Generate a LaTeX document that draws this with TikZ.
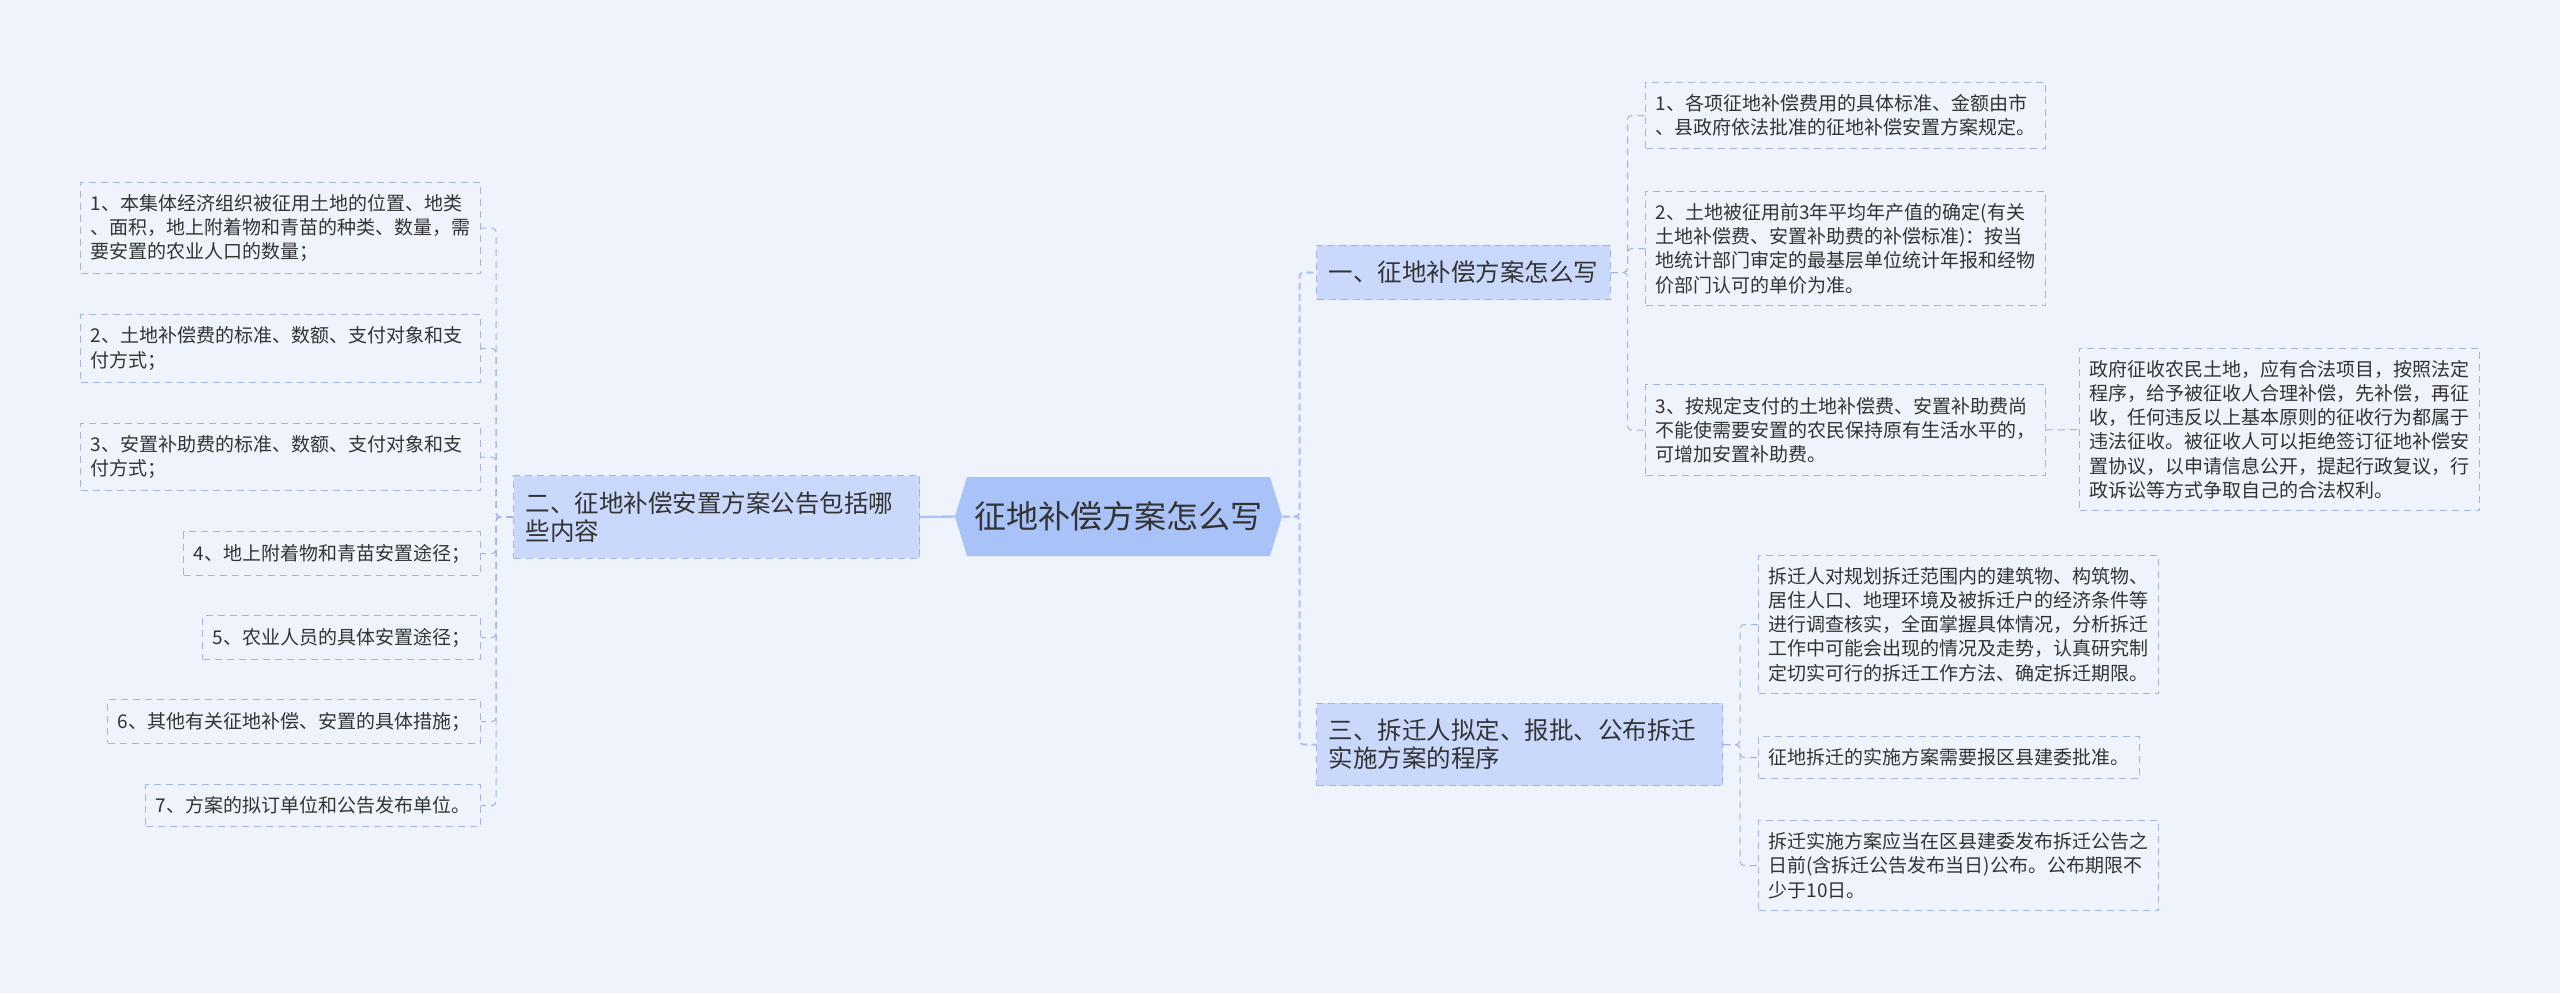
\documentclass[tikz,border=0pt]{standalone}
\usepackage{fontspec}
\setmainfont{Noto Sans CJK SC}
\usetikzlibrary{shapes.symbols}
\definecolor{bgcol}{HTML}{EEF3FC}
\definecolor{rootfill}{HTML}{A9C2F8}
\definecolor{branchfill}{HTML}{C9D8FB}
\definecolor{edgecol}{HTML}{A4B4E0}
\definecolor{inkcol}{HTML}{333333}

\begin{document}
\begin{tikzpicture}[x=0.5pt, y=-0.5pt,
  leaf/.style={draw=edgecol, line width=0.5pt, dash pattern=on 3.5pt off 2.5pt, text=inkcol, align=left, inner xsep=5pt, inner ysep=6pt, font=\fontsize{9.5}{12.1}\selectfont},
  wideleaf/.style={leaf, text width=190pt},
  branch/.style={draw=edgecol, fill=branchfill, line width=0.5pt, dash pattern=on 3.5pt off 2.5pt, text=inkcol, align=left, inner xsep=6pt, inner ysep=8pt, font=\fontsize{12.25}{14}\selectfont},
  widebranch/.style={branch, text width=191pt},
  root/.style={signal, signal to=west and east, signal pointer angle=146, fill=rootfill, text=inkcol, inner xsep=3.75pt, minimum height=39.5pt, font=\fontsize{16}{18}\selectfont},
  link/.style={edgecol, line width=0.5pt, dash pattern=on 3.5pt off 2.5pt, rounded corners=2pt},
  trunk/.style={rootfill, line width=1pt, dash pattern=on 3.5pt off 2pt, rounded corners=2pt},
  rootlink/.style={rootfill, line width=1.2pt}]
  \fill[bgcol] (0,0) rectangle (2560,993);

  \node[root] (root) at (1118.5,516.5) {征地补偿方案怎么写};

  \node[widebranch, anchor=east] (lb) at (920,517) {二、征地补偿安置方案公告包括哪\\些内容};
  \node[wideleaf, anchor=east] (l1) at (481,228) {1、本集体经济组织被征用土地的位置、地类\\、面积，地上附着物和青苗的种类、数量，需\\要安置的农业人口的数量；};
  \node[wideleaf, anchor=east] (l2) at (481,348.5) {2、土地补偿费的标准、数额、支付对象和支\\付方式；};
  \node[wideleaf, anchor=east] (l3) at (481,457) {3、安置补助费的标准、数额、支付对象和支\\付方式；};
  \node[leaf, anchor=east] (l4) at (481,553.5) {4、地上附着物和青苗安置途径；};
  \node[leaf, anchor=east] (l5) at (481,637.5) {5、农业人员的具体安置途径；};
  \node[leaf, anchor=east] (l6) at (481,721.5) {6、其他有关征地补偿、安置的具体措施；};
  \node[leaf, anchor=east] (l7) at (481,805.5) {7、方案的拟订单位和公告发布单位。};

  \node[branch, anchor=west] (b1) at (1316,272.5) {一、征地补偿方案怎么写};
  \node[wideleaf, anchor=west] (r1) at (1645,115.5) {1、各项征地补偿费用的具体标准、金额由市\\、县政府依法批准的征地补偿安置方案规定。};
  \node[wideleaf, anchor=west] (r2) at (1645,248.5) {2、土地被征用前3年平均年产值的确定(有关\\土地补偿费、安置补助费的补偿标准)：按当\\地统计部门审定的最基层单位统计年报和经物\\价部门认可的单价为准。};
  \node[wideleaf, anchor=west] (r3) at (1645,430) {3、按规定支付的土地补偿费、安置补助费尚\\不能使需要安置的农民保持原有生活水平的，\\可增加安置补助费。};
  \node[wideleaf, anchor=west] (r3c) at (2079,429.5) {政府征收农民土地，应有合法项目，按照法定\\程序，给予被征收人合理补偿，先补偿，再征\\收，任何违反以上基本原则的征收行为都属于\\违法征收。被征收人可以拒绝签订征地补偿安\\置协议，以申请信息公开，提起行政复议，行\\政诉讼等方式争取自己的合法权利。};

  \node[widebranch, anchor=west] (b3) at (1316,744.5) {三、拆迁人拟定、报批、公布拆迁\\实施方案的程序};
  \node[wideleaf, anchor=west] (s1) at (1758,624.5) {拆迁人对规划拆迁范围内的建筑物、构筑物、\\居住人口、地理环境及被拆迁户的经济条件等\\进行调查核实，全面掌握具体情况，分析拆迁\\工作中可能会出现的情况及走势，认真研究制\\定切实可行的拆迁工作方法、确定拆迁期限。};
  \node[leaf, anchor=west] (s2) at (1758,757.5) {征地拆迁的实施方案需要报区县建委批准。};
  \node[wideleaf, anchor=west] (s3) at (1758,865.5) {拆迁实施方案应当在区县建委发布拆迁公告之\\日前(含拆迁公告发布当日)公布。公布期限不\\少于10日。};

  \draw[rootlink] (root.west) -- (lb.east);
  \foreach \k in {1,...,7}
    \draw[link] (lb.west) -- ++(-8.5pt,0) |- (l\k.east);

  \draw[trunk] (root.east) -- ++(8.5pt,0) |- (b1.west);
  \draw[trunk] (root.east) -- ++(8.5pt,0) |- (b3.west);

  \foreach \k in {1,2,3}
    \draw[link] (b1.east) -- ++(8.5pt,0) |- (r\k.west);
  \draw[link] (r3.east) -- (r3c.west);

  \foreach \k in {1,2,3}
    \draw[link] (b3.east) -- ++(8.5pt,0) |- (s\k.west);
\end{tikzpicture}
\end{document}
